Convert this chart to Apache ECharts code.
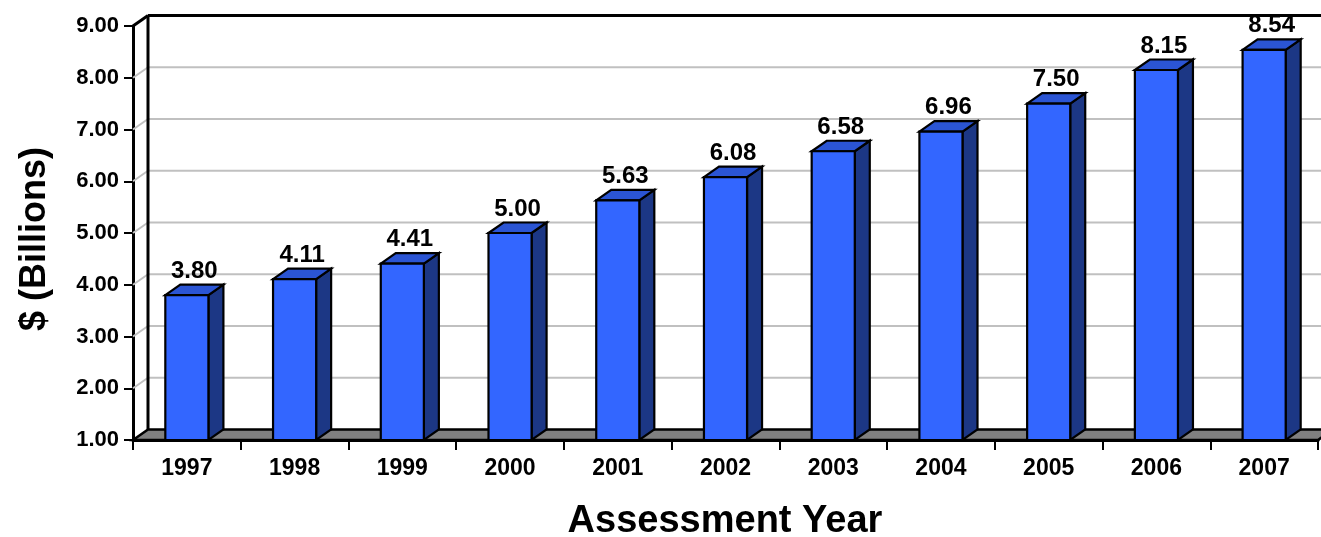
<!DOCTYPE html>
<html>
<head>
<meta charset="utf-8">
<title>Assessment Year</title>
<script src="https://cdn.jsdelivr.net/npm/echarts@6/dist/echarts.min.js"></script>
<style>
  html, body { margin: 0; padding: 0; background: #ffffff; }
  #chart { width: 1321px; height: 537px; }
</style>
</head>
<body>
<div id="chart"></div>
<script>
// Assessed value per year, in billions of dollars
const years = ['1997', '1998', '1999', '2000', '2001', '2002', '2003', '2004', '2005', '2006', '2007'];
const values = [3.80, 4.11, 4.41, 5.00, 5.63, 6.08, 6.58, 6.96, 7.50, 8.15, 8.54];
const yTicks = [1, 2, 3, 4, 5, 6, 7, 8, 9];

const FONT = '"Liberation Sans", Arial, Helvetica, sans-serif';
// depth offset of the pseudo-3D box (back plane relative to front plane)
const DX = 15, DY = -10.5;
const Y_MIN = 1, Y_MAX = 9;

const chart = echarts.init(document.getElementById('chart'), null, { renderer: 'canvas' });

// back wall gridlines, side-wall diagonals and box border
function renderWall(params, api) {
  const cs = params.coordSys;
  const v = api.value(1);
  const y = api.coord([0, v])[1];
  const x0 = cs.x, x1 = cs.x + cs.width + DX + 20;
  const children = [];
  if (v === Y_MIN) return { type: 'group', children: [] };
  const isTop = v === Y_MAX;
  const style = { stroke: isTop ? '#000000' : '#c0c0c0', lineWidth: isTop ? 3 : 2, fill: null };
  children.push({ type: 'line', shape: { x1: x0, y1: y, x2: x0 + DX, y2: y + DY }, style });
  children.push({ type: 'line', shape: { x1: x0 + DX, y1: y + DY, x2: x1, y2: y + DY }, style });
  if (isTop) {
    const yb = api.coord([0, Y_MIN])[1];
    children.push({ type: 'line', shape: { x1: x0 + DX, y1: y + DY, x2: x0 + DX, y2: yb + DY },
      style: { stroke: '#000000', lineWidth: 3 } });
  }
  return { type: 'group', children };
}

// grey floor of the box
function renderFloor(params, api) {
  const cs = params.coordSys;
  const yb = api.coord([0, Y_MIN])[1];
  const x0 = cs.x, x1 = cs.x + cs.width;
  return {
    type: 'polygon',
    shape: { points: [[x0, yb], [x1, yb], [x1 + DX, yb + DY], [x0 + DX, yb + DY]] },
    style: { fill: '#808080', stroke: '#000000', lineWidth: 2.5, lineJoin: 'miter' }
  };
}

// one 3D column with its value label
function renderBar(params, api) {
  const idx = api.value(0);
  const val = api.value(1);
  const top = api.coord([idx, val]);
  const base = api.coord([idx, Y_MIN]);
  const band = api.size([1, 0])[0];
  const w = band * 0.4;
  const l = top[0] - w / 2, r = top[0] + w / 2;
  const yt = top[1], yb = base[1];
  const edge = { stroke: '#000000', lineWidth: 2.2, lineJoin: 'miter' };
  return {
    type: 'group',
    children: [
      { type: 'polygon', shape: { points: [[r, yt], [r + DX, yt + DY], [r + DX, yb + DY], [r, yb]] },
        style: Object.assign({ fill: '#1c3785' }, edge) },
      { type: 'polygon', shape: { points: [[l, yt], [l + DX, yt + DY], [r + DX, yt + DY], [r, yt]] },
        style: Object.assign({ fill: '#2b55d4' }, edge) },
      { type: 'rect', shape: { x: l, y: yt, width: w, height: yb - yt },
        style: Object.assign({ fill: '#3366ff' }, edge) },
      { type: 'text', x: top[0] + DX / 2, y: yt - 24,
        style: { text: val.toFixed(2), fill: '#000000', font: 'bold 24px ' + FONT,
          align: 'center', verticalAlign: 'middle' } }
    ]
  };
}

const option = {
  animation: false,
  backgroundColor: '#ffffff',
  grid: { left: 133, right: 3, top: 26, bottom: 97, containLabel: false },
  xAxis: {
    type: 'category',
    data: years,
    boundaryGap: true,
    axisLine: { show: true, lineStyle: { color: '#000000', width: 3 } },
    axisTick: { show: true, length: 10, alignWithLabel: false, lineStyle: { color: '#000000', width: 2 } },
    axisLabel: { color: '#000000', fontFamily: FONT, fontWeight: 'bold', fontSize: 23, margin: 17 },
    splitLine: { show: false }
  },
  yAxis: {
    type: 'value',
    min: Y_MIN, max: Y_MAX, interval: 1,
    axisLine: { show: true, lineStyle: { color: '#000000', width: 3 } },
    axisTick: { show: true, length: 9, lineStyle: { color: '#000000', width: 2 } },
    axisLabel: { color: '#000000', fontFamily: FONT, fontWeight: 'bold', fontSize: 22, margin: 14,
      formatter: v => v.toFixed(2) },
    splitLine: { show: false }
  },
  graphic: [
    { type: 'text', x: 35, y: 239, rotation: Math.PI / 2,
      style: { text: '$ (Billions)', fill: '#000000', font: 'bold 36px ' + FONT,
        align: 'center', verticalAlign: 'middle' } },
    { type: 'text', x: 725, y: 522,
      style: { text: 'Assessment Year', fill: '#000000', font: 'bold 38px ' + FONT,
        align: 'center', verticalAlign: 'middle' } }
  ],
  series: [
    { type: 'custom', name: 'wall', z: 1, silent: true, clip: false,
      renderItem: renderWall, data: yTicks.map(v => [0, v]) },
    { type: 'custom', name: 'floor', z: 2, silent: true, clip: false,
      renderItem: renderFloor, data: [[0, Y_MIN]] },
    { type: 'custom', name: 'value', z: 3, clip: false,
      renderItem: renderBar, data: values.map((v, i) => [i, v]) }
  ]
};

chart.setOption(option);
</script>
</body>
</html>
